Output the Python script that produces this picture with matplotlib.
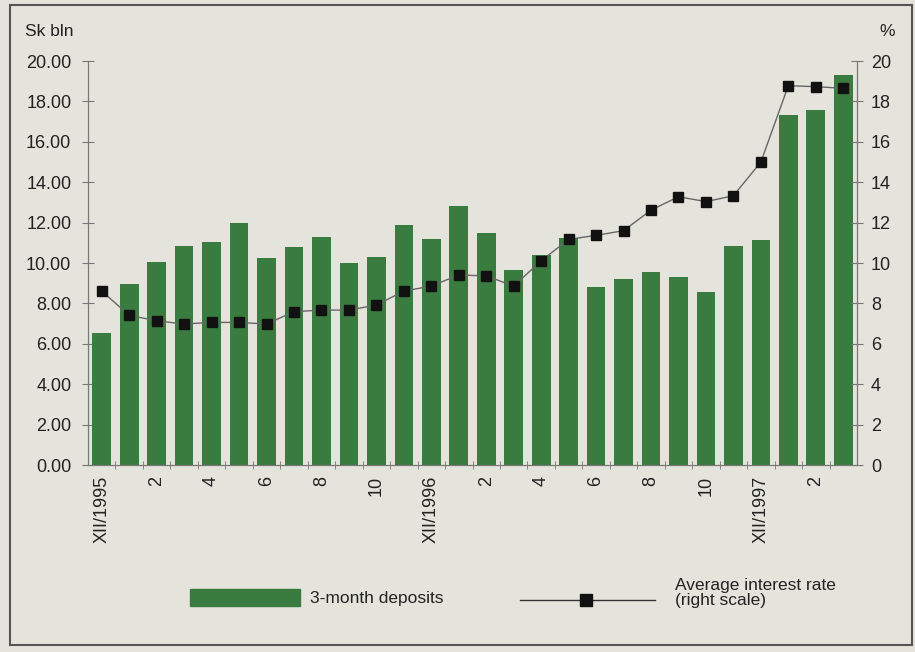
import numpy as np
import matplotlib.pyplot as plt
from matplotlib.patches import Rectangle
from matplotlib.lines import Line2D

# data
labels = ['XII/1995', '', '2', '', '4', '', '6', '', '8', '', '10', '',
          'XII/1996', '', '2', '', '4', '', '6', '', '8', '', '10', '',
          'XII/1997', '', '2', '']
deposits = [6.52, 8.96, 10.07, 10.84, 11.02, 11.96, 10.23, 10.78, 11.27, 9.98,
            10.31, 11.88, 11.17, 12.84, 11.5, 9.65, 10.4, 11.22, 8.8, 9.19,
            9.57, 9.32, 8.58, 10.84, 11.14, 17.33, 17.57, 19.3]
rate = [8.61, 7.41, 7.14, 6.98, 7.06, 7.06, 6.98, 7.59, 7.67, 7.67,
        7.92, 8.61, 8.86, 9.41, 9.36, 8.86, 10.11, 11.17, 11.37, 11.6,
        12.62, 13.28, 13.04, 13.33, 15.0, 18.78, 18.73, 18.65]

plt.rcParams['font.family'] = ['Liberation Sans Narrow', 'Liberation Sans', 'DejaVu Sans']
bg = '#e4e4dc'
green = '#3a7c3f'
txt = '#222222'

fig = plt.figure(figsize=(9.15, 6.52), dpi=100, facecolor=bg)
ax = fig.add_axes([0.0962, 0.2868, 0.8404, 0.6196])
ax.set_facecolor(bg)
x = np.arange(len(deposits))
ax.bar(x, deposits, width=0.68, color=green, zorder=2)
ax.set_xlim(-0.5, len(deposits) - 0.5)
ax.set_ylim(0, 20)
ax.set_yticks(np.arange(0, 21, 2))
ax.set_yticklabels(['%.2f' % v for v in np.arange(0, 21, 2)], fontsize=13, color=txt)
ax.set_xticks(x)
ax.set_xticklabels(labels, rotation=90, fontsize=13, va='top', color=txt)
ax.tick_params(axis='x', length=0, pad=8)
ax.set_xticks(x[:-1] + 0.5, minor=True)
ax.tick_params(axis='x', which='minor', length=6, direction='inout', color='#777777')
ax.tick_params(axis='y', length=8, direction='inout', color='#777777', pad=8)
ax.spines['top'].set_visible(False)
for s in ['left', 'right', 'bottom']:
    ax.spines[s].set_color('#777777')

ax2 = ax.twinx()
ax2.plot(x, rate, color='#666666', lw=1, marker='s', markersize=6.5,
         markerfacecolor='#111111', markeredgecolor='#111111', zorder=3)
ax2.set_ylim(0, 20)
ax2.set_yticks(np.arange(0, 21, 2))
ax2.set_yticklabels([str(v) for v in range(0, 21, 2)], fontsize=13, color=txt)
ax2.tick_params(axis='y', length=8, direction='inout', color='#777777', pad=6)
ax2.spines['top'].set_visible(False)
for s in ['left', 'right', 'bottom']:
    ax2.spines[s].set_color('#777777')

fig.text(0.027, 0.952, 'Sk bln', fontsize=12.5, va='center', color=txt)
fig.text(0.978, 0.952, '%', fontsize=12.5, va='center', ha='right', color=txt)

# legend
fig.patches.append(Rectangle((190 / 915, 1 - 606 / 652), 110 / 915, 17 / 652,
                             transform=fig.transFigure, color=green))
fig.text(310 / 915, 1 - 598 / 652, '3-month deposits', fontsize=12.5, va='center', color=txt)
fig.lines.append(Line2D([520 / 915, 655 / 915], [1 - 600 / 652, 1 - 600 / 652],
                        transform=fig.transFigure, color='#333333', lw=1))
fig.lines.append(Line2D([586 / 915], [1 - 600 / 652], transform=fig.transFigure,
                        marker='s', markersize=8, color='#111111'))
fig.text(675 / 915, 1 - 593 / 652, 'Average interest rate\n(right scale)', fontsize=12.5,
         va='center', linespacing=0.95, color=txt)

# outer frame
fig.patches.append(Rectangle((10 / 915, 1 - 645 / 652), 902 / 915, 640 / 652,
                             transform=fig.transFigure, fill=False, edgecolor='#555555', lw=1.5))

fig.savefig('out.png', dpi=100, facecolor=bg)
